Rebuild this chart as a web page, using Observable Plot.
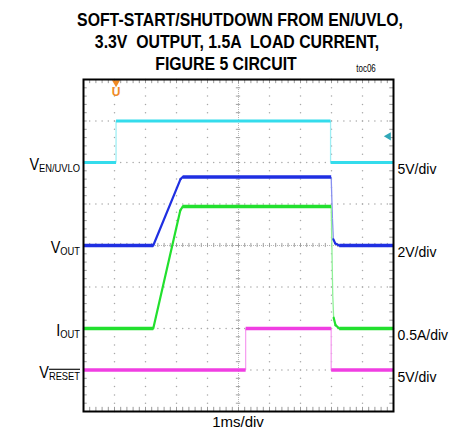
<!DOCTYPE html>
<html><head><meta charset="utf-8">
<script src="https://cdn.jsdelivr.net/npm/d3@7"></script>
<script src="https://cdn.jsdelivr.net/npm/@observablehq/plot@0.6"></script>
<style>body{margin:0;background:#fff;} #chart svg{display:block;}</style>
</head><body><div id="chart"></div>
<script>
// ---- data (time in ms, values in physical units) ----
const titleLines = ["SOFT-START/SHUTDOWN FROM EN/UVLO,", "3.3V  OUTPUT, 1.5A  LOAD CURRENT,", "FIGURE 5 CIRCUIT"];
const channelNames = ["VEN", "VOUT", "IOUT", "VRESET"];
const channelColors = ["#34dcec", "#1f2fe2", "#22e02e", "#f03ee2"];
const channelEdgeColors = ["#9eeef4", "#8890f0", "#90f098", "#f6a0f0"];
const channelUnitsPerDiv = [5, 2, 0.5, 5];
const channelOffsetDiv = [2, 0, -2, -3];
const leftMain = ["V", "V", "I", "V"];
const leftSub = ["EN/UVLO", "OUT", "OUT", "RESET"];
const rightLabels = ["5V/div", "2V/div", "0.5A/div", "5V/div"];
const xLabel = "1ms/div";

const venTime = [0, 1.05, 1.05, 7.97, 7.97, 10];
const venValue = [0, 0, 5, 5, 0, 0];
const voutTime = [0, 2.25, 3.13, 3.2, 7.99, 8.03, 8.06, 8.12, 8.25, 10];
const voutValue = [0, 0, 3.2, 3.3, 3.3, 1.3, 0.3, 0.1, 0, 0];
const ioutTime = [0, 2.25, 3.12, 3.2, 7.99, 8.04, 8.07, 8.13, 8.25, 10];
const ioutValue = [0, 0, 1.42, 1.47, 1.47, 0.4, 0.13, 0.04, 0, 0];
const vresetTime = [0, 5.23, 5.23, 7.99, 7.99, 10];
const vresetValue = [0, 0, 5, 5, 0, 0];
const triggerTime = 1.05;
const triggerLevelDiv = 2.63;

const traces = [[venTime, venValue], [voutTime, voutValue], [ioutTime, ioutValue], [vresetTime, vresetValue]];

// build segments
const segments = [];
traces.forEach(([t, v], c) => {
  for (let i = 0; i < t.length - 1; i++) {
    const y1 = v[i] / channelUnitsPerDiv[c] + channelOffsetDiv[c];
    const y2 = v[i + 1] / channelUnitsPerDiv[c] + channelOffsetDiv[c];
    const dt = t[i + 1] - t[i], dy = y2 - y1;
    let kind;
    if (dy === 0) kind = "flat";
    else if (dt === 0 || Math.abs(dy / dt) > 8) kind = "fast";
    else kind = "ramp";
    segments.push({c, x1: t[i], x2: t[i + 1], y1, y2, kind,
      color: channelColors[c], edge: channelEdgeColors[c]});
  }
});

// scope graticule (procedural)
const minorX = d3.range(0, 10.0001, 0.2).map(d => +d.toFixed(2));
const minorY = d3.range(-4, 4.0001, 0.2).map(d => +d.toFixed(2));
const gridDots = [];
for (const gx of [1,2,3,4,6,7,8,9]) for (const gy of minorY) gridDots.push({x: gx, y: gy});
for (const gy of [-3,-2,-1,1,2,3]) for (const gx of minorX) gridDots.push({x: gx, y: gy});

const levels = channelOffsetDiv;

const plot = Plot.plot({
  width: 469, height: 430,
  marginTop: 79, marginLeft: 83, marginRight: 76, marginBottom: 19,
  x: {domain: [0, 10], axis: null},
  y: {domain: [-4, 4], axis: null},
  style: {fontFamily: "'Liberation Sans', Arial, sans-serif", background: "white"},
  marks: [
    Plot.dot(gridDots, {x: "x", y: "y", r: 0.75, fill: "#a8a8a8", stroke: null}),
    Plot.ruleX([5], {stroke: "#b8b8b8", strokeDasharray: "1,1"}),
    Plot.ruleY([0], {stroke: "#b8b8b8", strokeDasharray: "1,1"}),
    Plot.ruleY(minorY, {y: d => d, x1: 4.93, x2: 5.07, stroke: "#a0a0a0"}),
    Plot.ruleX(minorX, {x: d => d, y1: -0.05, y2: 0.05, stroke: "#a0a0a0"}),
    Plot.ruleX(minorX, {x: d => d, y1: -4, y2: -3.9, stroke: "#999"}),
    Plot.ruleX(minorX, {x: d => d, y1: 4, y2: 3.9, stroke: "#999"}),
    Plot.ruleY(minorY, {y: d => d, x1: 0, x2: 0.12, stroke: "#999"}),
    Plot.ruleY(minorY, {y: d => d, x1: 10, x2: 9.88, stroke: "#999"}),
    // traces
    Plot.link(segments.filter(d => d.kind === "fast"), {x1: "x1", y1: "y1", x2: "x2", y2: "y2", stroke: "edge", strokeWidth: 1.3}),
    Plot.link(segments.filter(d => d.kind === "ramp"), {x1: "x1", y1: "y1", x2: "x2", y2: "y2", stroke: "color", strokeWidth: 2.2, strokeLinecap: "round"}),
    Plot.link(segments.filter(d => d.kind === "flat"), {x1: "x1", y1: "y1", x2: "x2", y2: "y2", stroke: "color", strokeWidth: d => d.c === 0 ? 3 : 3.6, strokeLinecap: "butt"}),
    // trigger markers
    Plot.dot([triggerTime], {x: d => d, y: 4, dy: 3, symbol: "triangle", rotate: 180, r: 3, fill: "#f08a24", stroke: null}),
    Plot.text(["U"], {x: triggerTime, y: 4, dy: 13, fill: "#f08a24", fontWeight: "bold", fontSize: 12}),
    Plot.dot([triggerLevelDiv], {x: 10, y: d => d, dx: -5, symbol: "triangle", rotate: -90, r: 3, fill: "#30a8b8", stroke: null}),
    // right labels
    Plot.text(rightLabels, {x: 10, y: (d, i) => levels[i], dx: 4, dy: 2, textAnchor: "start", lineAnchor: "top", fontSize: 14, fill: "black"}),
    Plot.frame({stroke: "black", strokeWidth: 2})
  ]
});
document.getElementById("chart").appendChild(plot);

const svg = d3.select(plot);
const xs = plot.scale("x"), ys = plot.scale("y");
const font = "'Liberation Sans', Arial, sans-serif";

// title
const titleSpec = [{cx: 240, y: 26}, {cx: 237, y: 48}, {cx: 226, y: 70}];
titleLines.forEach((s, i) => {
  svg.append("g").attr("transform", `translate(${titleSpec[i].cx},${titleSpec[i].y}) scale(0.88,1)`)
    .append("text").attr("text-anchor", "middle").attr("font-family", font)
    .attr("font-weight", "bold").attr("font-size", 18).attr("fill", "black").text(s);
});
svg.append("g").attr("transform", "translate(366,72) scale(0.8,1)")
  .append("text").attr("font-family", font).attr("font-size", 10).attr("fill", "black").text("toc06");

// left labels
leftMain.forEach((m, i) => {
  const g = svg.append("g").attr("transform", `translate(${xs.apply(0) - 3},${ys.apply(levels[i]) + 8}) scale(0.85,1)`);
  const t = g.append("text").attr("text-anchor", "end").attr("font-family", font).attr("fill", "black");
  t.append("tspan").attr("font-size", 17).text(m);
  const sub = t.append("tspan").attr("font-size", 11).attr("dy", 2).text(leftSub[i]);
  if (leftSub[i] === "RESET") sub.attr("text-decoration", "overline");
});

// x label
svg.append("text").attr("x", xs.apply(5)).attr("y", 427).attr("text-anchor", "middle")
  .attr("font-family", font).attr("font-size", 15).attr("fill", "black").text(xLabel);
</script></body></html>
